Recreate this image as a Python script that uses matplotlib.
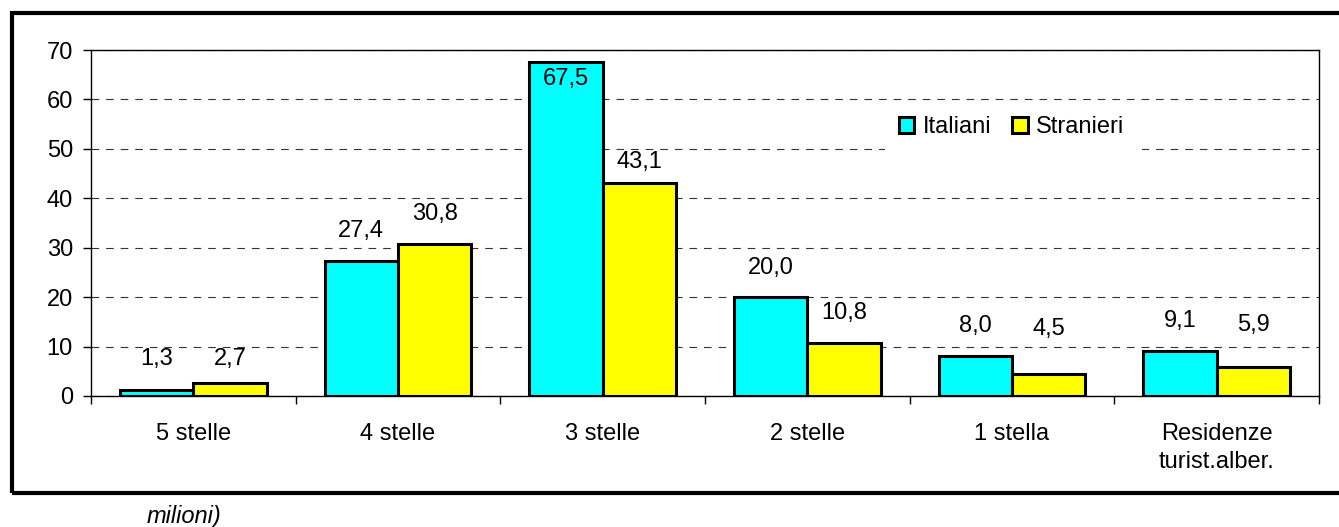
import matplotlib
matplotlib.use("Agg")
import matplotlib.pyplot as plt
from matplotlib.patches import Rectangle
import numpy as np

categories = ["5 stelle", "4 stelle", "3 stelle", "2 stelle", "1 stella", "Residenze\nturist.alber."]
italiani = [1.3, 27.4, 67.5, 20.0, 8.0, 9.1]
stranieri = [2.7, 30.8, 43.1, 10.8, 4.5, 5.9]
series_names = ["Italiani", "Stranieri"]
yticks = [0, 10, 20, 30, 40, 50, 60, 70]
footnote = "milioni)"

# label baseline offsets (points relative to bar top), as placed in the reference
lab_off_it = [17.8, 17.2, -16.2, 17.0, 17.7, 17.2]
lab_off_st = [12.9, 17.1, 11.1, 17.3, 27.9, 26.1]

plt.rcParams['font.family'] = ['Liberation Sans', 'DejaVu Sans']
plt.rcParams['lines.scale_dashes'] = False

W, H = 1339, 527
fig = plt.figure(figsize=(W / 100, H / 100), dpi=100)
ax = fig.add_axes([91 / W, (H - 396) / H, (1319 - 91) / W, (396 - 50) / H])

x = np.arange(len(categories))
bw = 0.359
ax.bar(x - bw / 2, italiani, bw, color="#00FFFF", edgecolor="black", linewidth=2.2, zorder=3, label=series_names[0])
ax.bar(x + bw / 2, stranieri, bw, color="#FFFF00", edgecolor="black", linewidth=2.2, zorder=3, label=series_names[1])

fs = 17
for xs, vals, offs in ((x - bw / 2, italiani, lab_off_it), (x + bw / 2, stranieri, lab_off_st)):
    for xi, v, o in zip(xs, vals, offs):
        txt = f"{v:.1f}".replace(".", ",")
        ax.annotate(txt, (xi, v), xytext=(0, o), textcoords="offset points",
                    ha="center", va="baseline", fontsize=fs, zorder=5)

ax.set_xlim(-0.5, len(categories) - 0.5)
ax.set_ylim(0, 70)
ax.set_yticks(yticks)
ax.set_yticklabels([str(t) for t in yticks], fontsize=fs)
ax.yaxis.grid(True, color="#333333", linewidth=0.8, dashes=(5.5, 5.0), zorder=0)
ax.set_axisbelow(True)

ax.set_xticks(x)
ax.set_xticklabels(categories, fontsize=fs, linespacing=1.35)
ax.tick_params(axis="x", length=0, pad=19.5)
ax.set_xticks(np.arange(len(categories) + 1) - 0.5, minor=True)
ax.tick_params(axis="x", which="minor", length=6, width=1, direction="out")
ax.tick_params(axis="y", length=5.5, width=1, direction="out", pad=7.5)

for s in ax.spines.values():
    s.set_linewidth(1.0)
    s.set_color("black")

# white legend background hiding the gridline
ax.add_patch(Rectangle(((885 - 91) / 1228, (396 - 158) / 346), (1142 - 885) / 1228, (158 - 105) / 346,
                       transform=ax.transAxes, facecolor="white", edgecolor="none", zorder=1))

leg = ax.legend(loc="center left", bbox_to_anchor=((899 - 91) / 1228, (396 - 127) / 346), ncol=2,
                frameon=False, fontsize=fs, borderpad=0, borderaxespad=0,
                handlelength=0.65, handleheight=0.65, handletextpad=0.35, columnspacing=0.9)
leg.set_zorder(6)
for p in leg.get_patches():
    p.set_linewidth(2.2)

# outer chart frame
fig.patches.append(Rectangle((12 / W, (H - 493) / H), 1.02 - 12 / W, (493 - 13) / H,
                             transform=fig.transFigure, fill=False, edgecolor="black",
                             linewidth=3.0, clip_on=False))

fig.text(147 / W, (H - 523) / H, footnote, fontsize=fs, style="italic", ha="left", va="baseline")

fig.savefig("out.png", dpi=100)
